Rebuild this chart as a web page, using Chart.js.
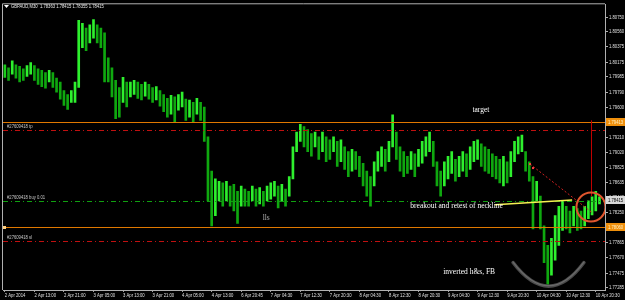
<!DOCTYPE html>
<html><head><meta charset="utf-8">
<script src="https://cdn.jsdelivr.net/npm/chart.js@4.4.1/dist/chart.umd.min.js"></script>
<style>html,body{margin:0;padding:0;background:#000;overflow:hidden}#wrap{width:625px;height:300px}</style>
</head><body><div id="wrap"><canvas id="c" width="625" height="300"></canvas></div>
<script>
const symbolTitle = 'GBPAUD,M30  1.78363 1.78415 1.78355 1.78415';
const tickLabels = ['2 Apr 2014','2 Apr 13:00','2 Apr 21:00','3 Apr 05:00','3 Apr 13:00','3 Apr 21:00','4 Apr 05:00','4 Apr 13:00','6 Apr 20:45','7 Apr 04:30','7 Apr 12:30','7 Apr 20:30','8 Apr 04:30','8 Apr 12:30','8 Apr 20:30','9 Apr 04:30','9 Apr 12:30','9 Apr 20:30','10 Apr 04:30','10 Apr 12:30','10 Apr 20:30'];
const highs = [1.8014,1.8010,1.8019,1.8014,1.8012,1.8009,1.8013,1.8017,1.8013,1.8009,
 1.8007,1.8004,1.8007,1.8004,1.7997,1.7992,1.7981,1.7976,1.7981,1.7992,
 1.8071,1.8067,1.8061,1.8065,1.8072,1.8065,1.8061,1.8055,1.8023,1.8010,
 1.7994,1.7985,1.7998,1.7992,1.7992,1.7994,1.7992,1.7989,1.7992,1.7989,
 1.7985,1.7986,1.7981,1.7976,1.7971,1.7975,1.7973,1.7976,1.7979,1.7970,
 1.7969,1.7966,1.7971,1.7966,1.7960,1.7922,1.7878,1.7868,1.7865,1.7863,
 1.7865,1.7859,1.7861,1.7852,1.7859,1.7855,1.7852,1.7859,1.7855,1.7857,
 1.7852,1.7859,1.7863,1.7865,1.7859,1.7861,1.7855,1.7871,1.7909,1.7928,
 1.7938,1.7935,1.7931,1.7926,1.7928,1.7922,1.7928,1.7922,1.7918,1.7922,
 1.7916,1.7918,1.7909,1.7903,1.7906,1.7903,1.7897,1.7888,1.7878,1.7871,
 1.7890,1.7903,1.7909,1.7906,1.7916,1.7950,1.7928,1.7909,1.7903,1.7897,
 1.7903,1.7900,1.7906,1.7916,1.7922,1.7928,1.7916,1.7890,1.7878,1.7890,
 1.7897,1.7903,1.7893,1.7897,1.7903,1.7900,1.7909,1.7916,1.7918,1.7913,
 1.7909,1.7906,1.7900,1.7897,1.7893,1.7897,1.7890,1.7903,1.7916,1.7922,
 1.7924,1.7903,1.7890,1.7871,1.7865,1.7846,1.7808,1.7783,1.7792,1.7821,
 1.7833,1.7840,1.7833,1.7827,1.7833,1.7830,1.7827,1.7833,1.7840,1.7845,
 1.7852,1.7845];
const lows = [1.7998,1.7994,1.8002,1.7997,1.7992,1.7994,1.7999,1.8002,1.7994,1.7989,
 1.7986,1.7984,1.7992,1.7985,1.7979,1.7970,1.7962,1.7957,1.7966,1.7966,
 1.7985,1.8036,1.8032,1.8042,1.8048,1.8042,1.8036,1.7992,1.7992,1.7973,
 1.7945,1.7947,1.7966,1.7960,1.7973,1.7976,1.7971,1.7969,1.7974,1.7970,
 1.7966,1.7969,1.7961,1.7954,1.7947,1.7951,1.7941,1.7956,1.7960,1.7943,
 1.7947,1.7941,1.7951,1.7943,1.7916,1.7840,1.7808,1.7821,1.7840,1.7833,
 1.7840,1.7833,1.7827,1.7811,1.7833,1.7833,1.7833,1.7840,1.7833,1.7836,
 1.7833,1.7840,1.7842,1.7846,1.7831,1.7840,1.7833,1.7846,1.7868,1.7903,
 1.7916,1.7909,1.7903,1.7897,1.7909,1.7893,1.7903,1.7890,1.7893,1.7903,
 1.7884,1.7890,1.7880,1.7871,1.7878,1.7880,1.7871,1.7859,1.7846,1.7833,
 1.7859,1.7878,1.7884,1.7878,1.7890,1.7909,1.7893,1.7878,1.7871,1.7875,
 1.7880,1.7871,1.7884,1.7888,1.7897,1.7903,1.7884,1.7859,1.7846,1.7859,
 1.7868,1.7875,1.7865,1.7871,1.7878,1.7871,1.7880,1.7890,1.7893,1.7884,
 1.7878,1.7875,1.7871,1.7868,1.7863,1.7859,1.7863,1.7871,1.7890,1.7900,
 1.7903,1.7878,1.7865,1.7804,1.7840,1.7804,1.7761,1.7733,1.7745,1.7764,
 1.7783,1.7802,1.7804,1.7799,1.7808,1.7802,1.7804,1.7808,1.7817,1.7822,
 1.7827,1.7836];
const yTickValues = [1.80750,1.80560,1.80375,1.80175,1.79985,1.79790,1.79600,1.79405,1.79210,1.79020,1.78825,1.78635,1.78440,1.78250,1.78060,1.77865,1.77670,1.77475,1.77285];
const yMin = 1.77259, yMax = 1.80914;
const tpLevel = 1.7931, entryLevel = 1.7840, slLevel = 1.7788;
const orangeLevels = [1.79413, 1.78060];
const bidPrice = 1.78415;
const orderTexts = ['#27609418 tp', '#27609418 buy 0.01', '#27609418 sl'];
const neckline = [[132.7, 1.7835], [153.6, 1.7841]];
const redDiag = [[142.2, 1.7887], [159.0, 1.7825]];
const circleAt = [158.7, 1.7832];
const vLine = [158.7, 1.7943, 1.7846];
const smile = [[137.6, 1.7761], [147.3, 1.77005], [156.8, 1.7761]];
const notes = [
  {text: 'target', x: 126.6, y: 1.7956, color: '#ffffff'},
  {text: 'breakout and retest of neckline', x: 109.8, y: 1.7833, color: '#ffffff'},
  {text: 'lls', x: 69.8, y: 1.7818, color: '#b0b0b0'},
  {text: 'inverted h&s, FB', x: 118.7, y: 1.7749, color: '#ffffff'}
];

const nCats = highs.length + 1;
const categories = Array.from({length: nCats}, (_, i) => (i % 8 === 0 && i / 8 < tickLabels.length) ? tickLabels[i / 8] : '');
const bars = lows.map((l, i) => [l, highs[i]]);
const SANS = "'Liberation Sans', Arial, sans-serif";
const smallFont = {family: SANS, size: 5.5};
const smallFontStr = "5.5px " + SANS;

// narrow rendering for the tiny terminal font (sans only)
const canvas = document.getElementById('c');
const ctx0 = canvas.getContext('2d');
const origFill = ctx0.fillText.bind(ctx0);
ctx0.fillText = function (t, x, y, mw) {
  if (this.font.indexOf('Liberation Sans') >= 0) {
    this.save(); this.translate(x, y); this.scale(0.76, 1); origFill(t, 0, 0); this.restore();
  } else if (mw !== undefined) { origFill(t, x, y, mw); } else { origFill(t, x, y); }
};

const mt4 = {
  id: 'mt4',
  beforeDraw(chart) {
    const c = chart.ctx;
    c.save(); c.fillStyle = '#000'; c.fillRect(0, 0, chart.width, chart.height); c.restore();
  },
  afterDatasetsDraw(chart) {
    const c = chart.ctx, a = chart.chartArea, xs = chart.scales.x, ys = chart.scales.y;
    const px = v => xs.getPixelForValue(v), py = v => ys.getPixelForValue(v);
    c.save();
    c.beginPath(); c.rect(a.left, a.top, a.right - a.left, a.bottom - a.top); c.clip();
    const hl = (lvl, color, dash) => {
      const y = Math.round(py(lvl)) + 0.5;
      c.strokeStyle = color; c.lineWidth = 1; c.setLineDash(dash);
      c.beginPath(); c.moveTo(a.left, y); c.lineTo(a.right, y); c.stroke();
      c.setLineDash([]);
      return y;
    };
    orangeLevels.forEach(l => hl(l, '#e07800', []));
    const yTp = hl(tpLevel, '#c01010', [5, 3, 1, 3]);
    const yEn = hl(entryLevel, '#10a010', [5, 3, 1, 3]);
    const ySl = hl(slLevel, '#c01010', [5, 3, 1, 3]);
    c.fillStyle = '#ffd080';
    c.fillRect(a.left, Math.round(py(orangeLevels[1])) - 1, 3, 3);
    c.font = smallFontStr; c.fillStyle = '#c8c8c8'; c.textBaseline = 'bottom'; c.textAlign = 'left';
    c.fillText(orderTexts[0], a.left + 4, yTp - 1);
    c.fillText(orderTexts[1], a.left + 4, yEn - 1);
    c.fillText(orderTexts[2], a.left + 4, ySl - 1);
    c.strokeStyle = '#c00000'; c.lineWidth = 1;
    const vx = Math.round(px(vLine[0])) + 0.5;
    c.beginPath(); c.moveTo(vx, py(vLine[1])); c.lineTo(vx, py(vLine[2])); c.stroke();
    c.strokeStyle = '#f4f050'; c.lineWidth = 1.6;
    c.beginPath(); c.moveTo(px(neckline[0][0]), py(neckline[0][1])); c.lineTo(px(neckline[1][0]), py(neckline[1][1])); c.stroke();
    c.strokeStyle = '#d02020'; c.lineWidth = 1; c.setLineDash([2, 2]);
    c.beginPath(); c.moveTo(px(redDiag[0][0]), py(redDiag[0][1])); c.lineTo(px(redDiag[1][0]), py(redDiag[1][1])); c.stroke();
    c.setLineDash([]);
    c.fillStyle = '#ff4040';
    c.fillRect(px(redDiag[0][0]) - 1, py(redDiag[0][1]) - 1, 2, 2);
    c.fillRect(px(redDiag[0][0]) + 2, py(redDiag[0][1]) + 3, 2, 2);
    c.strokeStyle = '#e0552e'; c.lineWidth = 2;
    c.beginPath(); c.arc(px(circleAt[0]), py(circleAt[1]), 14.5, 0, Math.PI * 2); c.stroke();
    c.strokeStyle = '#4a4a4a'; c.lineWidth = 3.5; c.lineCap = 'round';
    c.beginPath(); c.moveTo(px(smile[0][0]), py(smile[0][1]));
    c.quadraticCurveTo(px(smile[1][0]), py(smile[1][1]), px(smile[2][0]), py(smile[2][1])); c.stroke();
    c.strokeStyle = '#6a6a6a'; c.lineWidth = 1.2;
    c.beginPath(); c.moveTo(px(smile[0][0]), py(smile[0][1]) - 0.5);
    c.quadraticCurveTo(px(smile[1][0]), py(smile[1][1]) - 0.5, px(smile[2][0]), py(smile[2][1]) - 0.5); c.stroke();
    c.font = "7.5px 'Liberation Serif', 'Times New Roman', serif"; c.textBaseline = 'middle'; c.textAlign = 'left';
    notes.forEach(n => { c.fillStyle = n.color; c.fillText(n.text, px(n.x), py(n.y)); });
    c.restore();
  },
  afterDraw(chart) {
    const c = chart.ctx, a = chart.chartArea, ys = chart.scales.y;
    c.save();
    c.strokeStyle = '#b0b0b0'; c.lineWidth = 1;
    c.beginPath(); c.moveTo(a.left - 0.5, a.bottom); c.lineTo(a.left - 0.5, a.top - 0.5); c.lineTo(a.right, a.top - 0.5); c.stroke();
    c.font = smallFontStr; c.textBaseline = 'middle'; c.textAlign = 'left';
    const box = (v, bg, fg) => {
      const y = Math.round(ys.getPixelForValue(v));
      c.fillStyle = bg; c.fillRect(a.right + 1, y - 4, 625 - a.right - 1, 8);
      c.fillStyle = fg; c.fillText(v.toFixed(5), a.right + 3, y + 0.5);
    };
    box(orangeLevels[0], '#f0900c', '#fff2c8');
    box(orangeLevels[1], '#f0900c', '#fff2c8');
    box(bidPrice, '#d8d8d8', '#000000');
    c.fillStyle = '#ffffff';
    c.beginPath(); c.moveTo(4, 5); c.lineTo(9, 5); c.lineTo(6.5, 8); c.closePath(); c.fill();
    c.font = smallFontStr; c.textBaseline = 'middle'; c.fillStyle = '#e8e8e8';
    c.fillText(symbolTitle, 11, 6.5);
    c.restore();
  }
};

new Chart(canvas, {
  type: 'bar',
  data: {
    labels: categories,
    datasets: [{
      data: bars,
      backgroundColor: (cx) => {
        const i = cx.dataIndex;
        if (i === undefined || i === 0) return '#1ccc1c';
        const m = (highs[i] + lows[i]) / 2, p = (highs[i - 1] + lows[i - 1]) / 2;
        return m >= p ? '#2ef02e' : '#0fa80f';
      },
      borderWidth: 0,
      barThickness: 2,
      grouped: false
    }]
  },
  options: {
    responsive: false,
    devicePixelRatio: 1,
    animation: false,
    events: [],
    layout: {padding: {left: 3, top: 2, right: 0, bottom: 0}},
    plugins: {legend: {display: false}, tooltip: {enabled: false}, title: {display: false}},
    scales: {
      x: {
        type: 'category',
        offset: true,
        afterBuildTicks(s) { s.ticks = s.ticks.filter(t => t.value % 8 === 0 && t.value / 8 < tickLabels.length); },
        afterFit(s) { s.height = 10; s.paddingLeft = 0; s.paddingRight = 0; },
        ticks: {autoSkip: false, maxRotation: 0, minRotation: 0, align: 'start', padding: 0, color: '#e0e0e0', font: smallFont,
          callback(v) { return this.getLabelForValue(v); }},
        grid: {display: true, drawOnChartArea: false, drawTicks: true, tickLength: 2, color: '#a0a0a0', offset: false},
        border: {display: true, color: '#b0b0b0'}
      },
      y: {
        type: 'linear',
        position: 'right',
        min: yMin, max: yMax,
        afterBuildTicks(s) { s.ticks = yTickValues.map(v => ({value: v})); },
        afterFit(s) { s.width = 20; },
        ticks: {padding: 1, color: '#e0e0e0', font: smallFont, callback(v) { return Number(v).toFixed(5); }},
        grid: {display: true, drawOnChartArea: false, drawTicks: true, tickLength: 3, color: '#b0b0b0'},
        border: {display: true, color: '#b0b0b0'}
      }
    }
  },
  plugins: [mt4]
});
</script>
</body></html>
